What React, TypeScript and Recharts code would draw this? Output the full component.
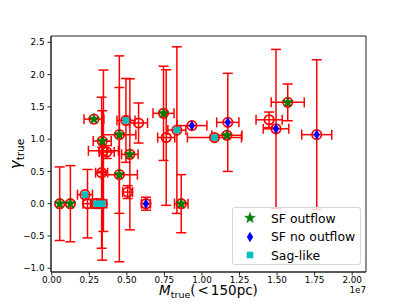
import React from "react";
import { ScatterChart, Scatter, XAxis, YAxis, ErrorBar, ReferenceArea } from "recharts";

// x values in units of 1e7 (matplotlib offset text "1e7")
const massE7 = [0.053, 0.124, 0.221, 0.238, 0.298, 0.336, 0.281, 0.336, 0.344, 0.366, 0.332, 0.45, 0.45, 0.494, 0.52, 0.505, 0.578, 0.627, 0.744, 0.762, 0.833, 0.862, 0.933, 1.083, 1.166, 1.172, 1.447, 1.493, 1.571, 1.764];
const massErr = [0.0, 0.0, 0.05, 0.03, 0.04, 0.03, 0.066, 0.06, 0.1, 0.05, 0.04, 0.11, 0.12, 0.06, 0.055, 0.033, 0.06, 0.03, 0.07, 0.057, 0.06, 0.045, 0.1, 0.18, 0.1, 0.074, 0.087, 0.085, 0.11, 0.1];
const gamma = [0.0, 0.0, 0.14, 0.0, 0.0, 0.0, 1.31, 0.97, 0.82, 0.8, 0.48, 1.07, 0.45, 1.29, 0.765, 0.18, 1.25, 0.0, 1.4, 1.025, 1.14, 0.0, 1.21, 1.025, 1.06, 1.26, 1.3, 1.16, 1.57, 1.07];
const gammaErr = [0.57, 0.59, 0.0, 0.53, 0.07, 0.875, 0.0, 0.47, 1.25, 0.1, 1.17, 1.22, 1.35, 0.65, 1.17, 0.1, 0.31, 0.1, 0.73, 1.05, 1.29, 0.45, 0.0, 0.0, 0.0, 0.76, 0.12, 1.23, 0.285, 1.16];
const kind = ["sf", "sf", "sag", "none", "sag", "sag", "sf", "sf", "none", "none", "none", "sf", "sf", "sag", "sf", "none", "none", "nosf", "sf", "none", "sag", "sf", "nosf", "sag", "sf", "nosf", "none", "nosf", "sf", "nosf"];

const xTicks = [0, 0.25, 0.5, 0.75, 1.0, 1.25, 1.5, 1.75, 2.0];
const yTicks = [-1.0, -0.5, 0.0, 0.5, 1.0, 1.5, 2.0, 2.5];
const xDomain = [-0.005, 2.092];
const yDomain = [-1.058, 2.598];

const legendItems = [
  { key: "sf", label: "SF outflow" },
  { key: "nosf", label: "SF no outflow" },
  { key: "sag", label: "Sag-like" },
];

const points = massE7.map((x, i) => ({ x, y: gamma[i], xerr: massErr[i], yerr: gammaErr[i], kind: kind[i] }));

const RED = "#ff0000";
const FONT = "DejaVu Sans";

function RedRing(p: any) {
  return <circle cx={p.cx} cy={p.cy} r={4.7} fill="none" stroke={RED} strokeWidth={1.8} />;
}

function StarMark(p: any) {
  const pts: string[] = [];
  for (let k = 0; k < 10; k++) {
    const r = k % 2 ? 2.3 : 5.6;
    const a = -Math.PI / 2 + (k * Math.PI) / 5;
    pts.push(`${p.cx + r * Math.cos(a)},${p.cy + r * Math.sin(a)}`);
  }
  return <polygon points={pts.join(" ")} fill="#008000" stroke="#006a00" strokeWidth={0.5} />;
}

function DiamondMark(p: any) {
  const { cx, cy } = p;
  return <polygon points={`${cx},${cy - 5.2} ${cx + 3.2},${cy} ${cx},${cy + 5.2} ${cx - 3.2},${cy}`} fill="#0000ff" />;
}

function SquareMark(p: any) {
  return <rect x={p.cx - 3.3} y={p.cy - 3.3} width={6.6} height={6.6} fill="#00bfbf" />;
}

const markFor: Record<string, (p: any) => React.ReactElement> = { sf: StarMark, nosf: DiamondMark, sag: SquareMark };

function fmtY(v: number) {
  return v < 0 ? "\u2212" + Math.abs(v).toFixed(1) : v.toFixed(1);
}

function XLabel({ viewBox }: any) {
  const { x, y, width } = viewBox;
  return (
    <g fontFamily={FONT} fill="#000">
      <text x={x + width / 2} y={y + 23} textAnchor="middle" fontSize={13.5}>
        <tspan fontStyle="italic">M</tspan>
        <tspan fontSize={9.5} dy={3}>true</tspan>
        <tspan dy={-3}>(</tspan>
        <tspan dx={2}>&lt;</tspan>
        <tspan dx={2}>150pc)</tspan>
      </text>
      <text x={x + width} y={y + 21} textAnchor="end" fontSize={8.8}>1e7</text>
    </g>
  );
}

function YLabel({ viewBox }: any) {
  const { x, y, height } = viewBox;
  const cx = x + 21;
  const cy = y + height / 2;
  return (
    <text x={cx} y={cy} transform={`rotate(-90 ${cx} ${cy})`} textAnchor="middle" fontFamily={FONT} fontSize={15} fill="#000">
      <tspan fontStyle="italic">γ</tspan>
      <tspan fontSize={10.5} dy={3}>true</tspan>
    </text>
  );
}

function Legend() {
  return (
    <div
      style={{
        position: "absolute",
        left: 232,
        top: 207,
        width: 127,
        height: 56,
        border: "1px solid #d6d6d6",
        borderRadius: 3,
        background: "rgba(255,255,255,0.8)",
        fontFamily: FONT,
        fontSize: 12.4,
        color: "#000",
      }}
    >
      {legendItems.map((it, i) => {
        const Mark = markFor[it.key];
        return (
          <div key={it.key} style={{ position: "absolute", left: 0, top: 1 + i * 18.7, height: 18, display: "flex", alignItems: "center", whiteSpace: "nowrap" }}>
            <svg width={34} height={18} style={{ display: "block" }}>
              <Mark cx={17} cy={9} />
            </svg>
            <span style={{ marginLeft: 4 }}>{it.label}</span>
          </div>
        );
      })}
    </div>
  );
}

export default function App() {
  return (
    <div style={{ position: "absolute", left: 0, top: 0, width: 407, height: 305, background: "#fff" }}>
      <ScatterChart width={407} height={305} margin={{ top: 36, right: 41, bottom: 0, left: 0 }}>
        <XAxis
          type="number"
          dataKey="x"
          domain={xDomain}
          allowDataOverflow
          ticks={xTicks}
          tickFormatter={(v: number) => v.toFixed(2)}
          height={33}
          tickSize={3.5}
          tickMargin={1.5}
          stroke="#222"
          tick={{ fill: "#000", fontSize: 8.8, fontFamily: FONT }}
          label={{ content: XLabel }}
        />
        <YAxis
          type="number"
          dataKey="y"
          domain={yDomain}
          allowDataOverflow
          ticks={yTicks}
          tickFormatter={fmtY}
          width={51}
          tickSize={3.5}
          tickMargin={3}
          stroke="#222"
          tick={{ fill: "#000", fontSize: 8.8, fontFamily: FONT }}
          label={{ content: YLabel }}
        />
        <ReferenceArea x1={xDomain[0]} x2={xDomain[1]} y1={yDomain[0]} y2={yDomain[1]} fill="none" stroke="#222" strokeWidth={1} />
        <Scatter data={points} shape={RedRing} isAnimationActive={false}>
          <ErrorBar dataKey="yerr" direction="y" width={5} stroke={RED} strokeWidth={1.5} isAnimationActive={false} />
          <ErrorBar dataKey="xerr" direction="x" width={5} stroke={RED} strokeWidth={1.5} isAnimationActive={false} />
        </Scatter>
        {legendItems.map((it) => (
          <Scatter key={it.key} data={points.filter((p) => p.kind === it.key)} shape={markFor[it.key]} isAnimationActive={false} />
        ))}
      </ScatterChart>
      <Legend />
    </div>
  );
}
